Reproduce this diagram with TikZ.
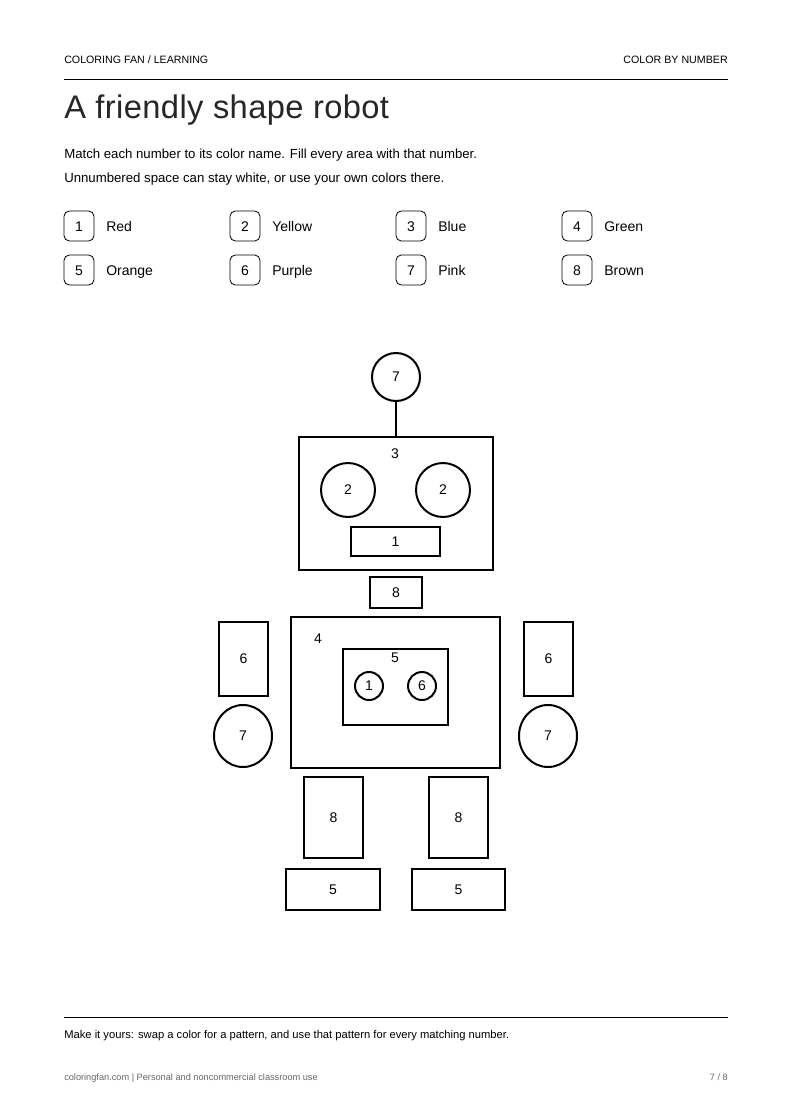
\documentclass[tikz,border=0pt]{standalone}
\usepackage{fontspec}
\setmainfont{Liberation Sans}
\usetikzlibrary{shapes.geometric}
\begin{document}
\begin{tikzpicture}[x=0.75pt,y=-0.75pt,
  shp/.style={draw=black,line width=1.5pt},
  num/.style={font=\fontsize{10.5}{12}\selectfont},
  txt/.style={inner sep=0pt,text height=1.5ex,text depth=0.3ex},
  key/.style={draw=black,line width=0.6pt,rounded corners=4pt,minimum width=22.5pt,minimum height=22.5pt,inner sep=0pt,text height=1.45ex,text depth=0pt,font=\fontsize{10.5}{12}\selectfont},
  lab/.style={txt,anchor=west,font=\fontsize{10.5}{12}\selectfont}]
\useasboundingbox (0,0) rectangle (792,1120);
% header
\node[txt,anchor=west,font=\fontsize{8}{9}\selectfont] (h1) at (64,59) {COLORING FAN / LEARNING};
\node[txt,anchor=east,font=\fontsize{8}{9}\selectfont] (h2) at (728,59) {COLOR BY NUMBER};
\draw[line width=0.6pt] (64,79) -- (728,79);
\node[txt,anchor=west,font=\fontsize{24.5}{28}\selectfont,text=black!85] (title) at (64,114) {\addfontfeature{LetterSpace=1.2}A friendly shape robot};
\node[txt,anchor=west,font=\fontsize{9.9}{11}\selectfont] (i1) at (64,154) {Match each number to its color name. Fill every area with that number.};
\node[txt,anchor=west,font=\fontsize{9.9}{11}\selectfont] (i2) at (64,178) {Unnumbered space can stay white, or use your own colors there.};
% legend
\foreach \n/\x/\y/\t in {1/64/226/Red,2/230/226/Yellow,3/396/226/Blue,4/562/226/Green,5/64/270/Orange,6/230/270/Purple,7/396/270/Pink,8/562/270/Brown}{
  \node[key] (k\n) at (\x+15,\y) {\n};
  \node[lab] (l\n) at (\x+42,\y+1) {\t};
}
% robot
\node[shp,circle,minimum size=36pt,inner sep=0pt,num] (ant) at (396,377) {7};
\node[shp,rectangle,minimum width=145.5pt,minimum height=99.75pt,inner sep=0pt] (head) at (396,503.5) {};
\draw[line width=1.5pt] (ant) -- (head.north);
\node[num] (h3) at (395,454) {3};
\node[shp,circle,minimum size=40.5pt,inner sep=0pt,num] (e1) at (348,490) {2};
\node[shp,circle,minimum size=40.5pt,inner sep=0pt,num] (e2) at (443,490) {2};
\node[shp,rectangle,minimum width=66.75pt,minimum height=21.75pt,inner sep=0pt,num] (mouth) at (395.5,541.5) {1};
\node[shp,rectangle,minimum width=39pt,minimum height=23.25pt,inner sep=0pt,num] (neck) at (396,592.5) {8};
\node[shp,rectangle,minimum width=156.75pt,minimum height=113.25pt,inner sep=0pt] (body) at (395.5,692.5) {};
\node[num] (b4) at (318,639) {4};
\node[shp,rectangle,minimum width=78.75pt,minimum height=57pt,inner sep=0pt] (panel) at (395.5,687) {};
\node[num] (p5) at (395,658) {5};
\node[shp,circle,minimum size=21pt,inner sep=0pt,num] (c1) at (369,686) {1};
\node[shp,circle,minimum size=21pt,inner sep=0pt,num] (c2) at (422,686) {6};
\node[shp,rectangle,minimum width=36.75pt,minimum height=55.5pt,inner sep=0pt,num] (armL) at (243.5,659) {6};
\node[shp,rectangle,minimum width=36.75pt,minimum height=55.5pt,inner sep=0pt,num] (armR) at (548.5,659) {6};
\node[shp,ellipse,minimum width=43.5pt,minimum height=46.5pt,inner sep=0pt,num] (handL) at (243,736) {7};
\node[shp,ellipse,minimum width=43.5pt,minimum height=46.5pt,inner sep=0pt,num] (handR) at (548,736) {7};
\node[shp,rectangle,minimum width=44.25pt,minimum height=60.75pt,inner sep=0pt,num] (legL) at (333.5,817.5) {8};
\node[shp,rectangle,minimum width=44.25pt,minimum height=60.75pt,inner sep=0pt,num] (legR) at (458.5,817.5) {8};
\node[shp,rectangle,minimum width=70.5pt,minimum height=30.75pt,inner sep=0pt,num] (footL) at (333,889.5) {5};
\node[shp,rectangle,minimum width=69.75pt,minimum height=30.75pt,inner sep=0pt,num] (footR) at (458.5,889.5) {5};
% footer
\draw[line width=0.6pt] (64,1017) -- (728,1017);
\node[txt,anchor=west,font=\fontsize{8.4}{10}\selectfont] (f1) at (64,1034) {Make it yours: swap a color for a pattern, and use that pattern for every matching number.};
\node[txt,anchor=west,font=\fontsize{6.9}{8}\selectfont,text=black!60] (f2) at (64,1076) {coloringfan.com | Personal and noncommercial classroom use};
\node[txt,anchor=east,font=\fontsize{6.9}{8}\selectfont,text=black!60] (f3) at (728,1076) {7 / 8};
\end{tikzpicture}
\end{document}
